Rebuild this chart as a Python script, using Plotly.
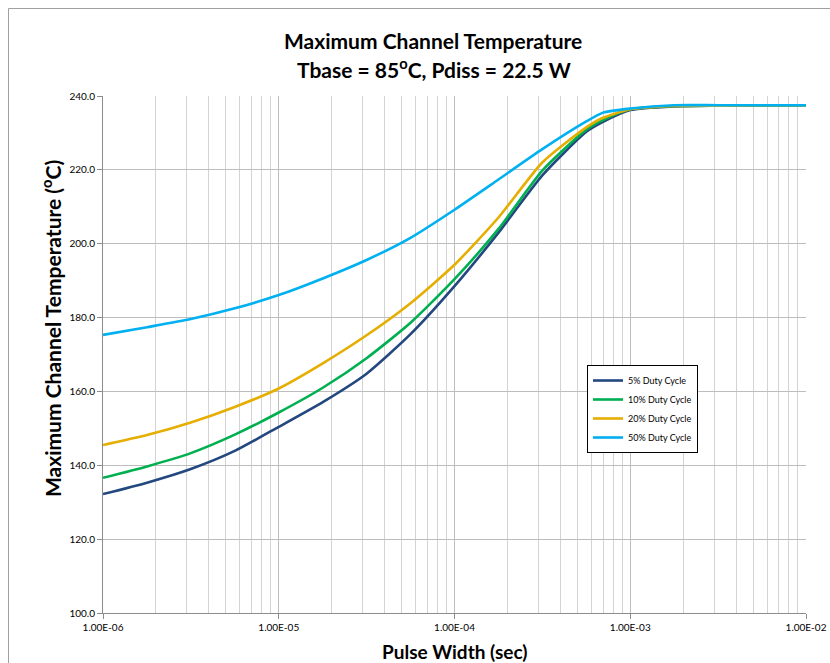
import plotly.graph_objects as go

# Pulse width (sec), read at quarter-decade steps (plus 7e-4 where the 50% curve bends)
pulse_width = [1.00e-6, 1.78e-6, 3.16e-6, 5.62e-6, 1.00e-5, 1.78e-5, 3.16e-5, 5.62e-5,
               1.00e-4, 1.78e-4, 3.16e-4, 5.62e-4, 7.00e-4, 1.00e-3, 1.78e-3, 3.16e-3,
               5.62e-3, 1.00e-2]
dc5 = [132.2, 135.3, 139.0, 143.9, 150.4, 157.1, 164.8, 175.5,
       188.5, 203.0, 218.5, 230.3, 233.0, 236.2, 237.2, 237.4, 237.5, 237.5]
dc10 = [136.6, 139.7, 143.3, 148.3, 154.3, 161.0, 169.0, 178.6,
        190.4, 204.0, 219.8, 230.9, 233.5, 236.4, 237.3, 237.4, 237.5, 237.5]
dc20 = [145.5, 148.2, 151.6, 155.8, 160.8, 167.6, 175.2, 183.9,
        194.3, 207.1, 222.0, 231.5, 234.1, 236.4, 237.3, 237.4, 237.5, 237.5]
dc50 = [175.3, 177.4, 179.6, 182.5, 186.1, 190.6, 195.6, 201.6,
        209.2, 217.4, 225.6, 233.1, 235.5, 236.6, 237.5, 237.5, 237.5, 237.5]

series_names = ["5% Duty Cycle", "10% Duty Cycle", "20% Duty Cycle", "50% Duty Cycle"]
series_colors = ["#23477F", "#00B050", "#E5AE00", "#00B0F0"]
x_tickvals = [1e-6, 1e-5, 1e-4, 1e-3, 1e-2]
x_ticktext = ["1.00E-06", "1.00E-05", "1.00E-04", "1.00E-03", "1.00E-02"]

FONT = "Lato, 'Open Sans', sans-serif"

fig = go.Figure()
for name, vals, col in zip(series_names, [dc5, dc10, dc20, dc50], series_colors):
    fig.add_trace(go.Scatter(x=pulse_width, y=vals, mode="lines", name=name,
                             line=dict(color=col, width=2.6, shape="spline", smoothing=0.6)))

# body margin is removed by the post script, so page pixels == figure pixels
W, H = 830, 663
PL, PR, PT, PB = 103, 806, 96, 613          # plot area in page pixels
ml, mr, mt, mb = PL, W - PR, PT, H - PB
pw, ph = PR - PL, PB - PT


def px(xp):
    return (xp - PL) / pw


def py(yp):
    return (PB - yp) / ph


fig.update_layout(
    width=W, height=H,
    margin=dict(l=ml, r=mr, t=mt, b=mb, autoexpand=False),
    paper_bgcolor="white", plot_bgcolor="white",
    font=dict(family=FONT, color="#000000"),
    showlegend=True,
    legend=dict(x=px(587), y=py(365), xanchor="left", yanchor="top",
                bgcolor="white", bordercolor="#000000", borderwidth=1,
                font=dict(size=9, family=FONT, color="#000000"),
                itemwidth=30, tracegroupgap=0),
    xaxis=dict(type="log", range=[-6, -2], tickvals=x_tickvals, ticktext=x_ticktext,
               showgrid=True, gridcolor="#BDBDBD", gridwidth=1, automargin=False,
               minor=dict(dtick="D1", showgrid=True, gridcolor="#D3D3D3", gridwidth=1, ticks=""),
               showline=True, linecolor="#8C8C8C", linewidth=1,
               ticks="outside", ticklen=5, tickcolor="#8C8C8C",
               tickfont=dict(size=10, family=FONT, color="#000000"), zeroline=False),
    yaxis=dict(range=[100, 240], dtick=20, tickformat=".1f", automargin=False,
               showgrid=True, gridcolor="#BDBDBD", gridwidth=1,
               showline=True, linecolor="#8C8C8C", linewidth=1,
               ticks="outside", ticklen=5, tickcolor="#8C8C8C",
               tickfont=dict(size=10, family=FONT, color="#000000"), zeroline=False),
)

annotations = [
    dict(text="<b>Maximum Channel Temperature</b>", x=px(433), y=py(41),
         font=dict(size=21, family=FONT)),
    dict(text="<b>Tbase = 85<sup>o</sup>C, Pdiss = 22.5 W</b>", x=px(434), y=py(68),
         font=dict(size=21, family=FONT)),
    dict(text="<b>Pulse Width (sec)</b>", x=px(454), y=py(651),
         font=dict(size=19, family=FONT)),
    dict(text="<b>Maximum Channel Temperature (<sup>o</sup>C)</b>", x=px(51), y=py(329),
         textangle=-90, font=dict(size=21, family=FONT)),
]
for a in annotations:
    a.update(xref="paper", yref="paper", showarrow=False, xanchor="center", yanchor="middle")
fig.update_layout(annotations=annotations)

# outer chart-area border (its right and bottom edges lie outside the picture)
fig.add_shape(type="rect", xref="paper", yref="paper",
              x0=px(8.5), x1=px(860), y0=py(700), y1=py(8.5),
              line=dict(color="#A0A0A0", width=1), fillcolor="rgba(0,0,0,0)", layer="below")

fig.write_html("out.html",
               config={"displayModeBar": False},
               post_script="document.body.style.margin='0';"
                           "document.body.style.overflow='hidden';")
